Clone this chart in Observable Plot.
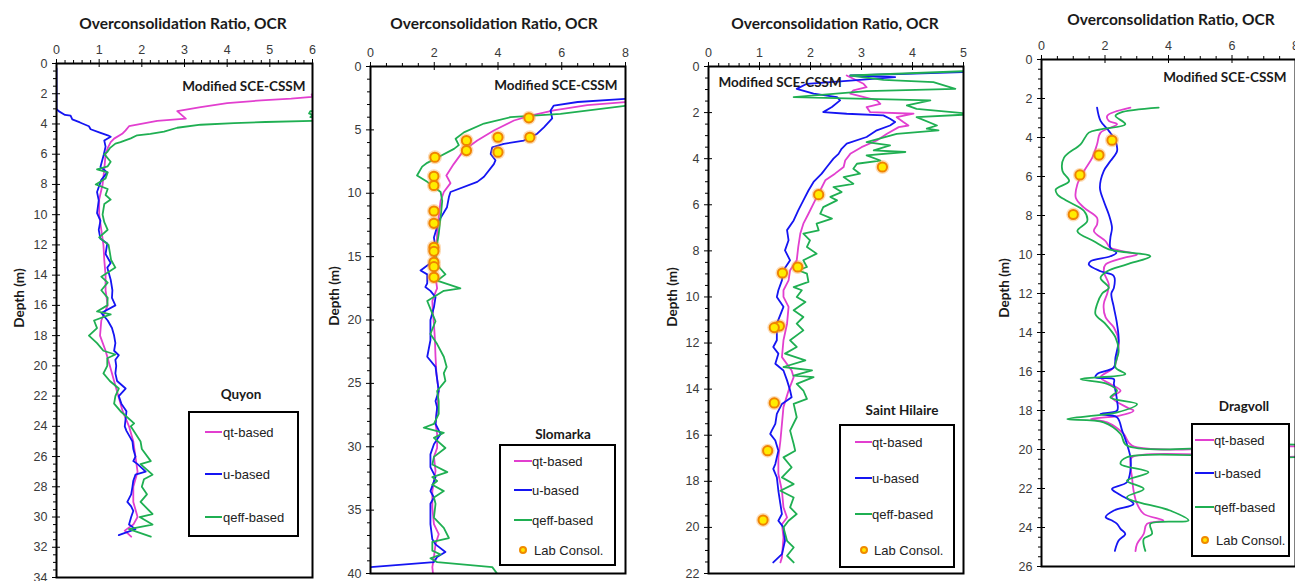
<!DOCTYPE html>
<html><head><meta charset="utf-8">
<script src="https://cdn.jsdelivr.net/npm/d3@7"></script>
<script src="https://cdn.jsdelivr.net/npm/@observablehq/plot@0.6"></script>
<style>
html,body{margin:0;padding:0;background:#fff;overflow:hidden;}
#root{position:relative;width:1295px;height:581px;overflow:hidden;font-family:"Liberation Sans",Arial,sans-serif;}
#root svg{position:absolute;overflow:visible;}
.title{position:absolute;font-family:Lato,"Open Sans",sans-serif;font-weight:700;font-size:15.5px;color:#1a1a1a;white-space:nowrap;transform:translate(-50%,-50%);}
.ylab{position:absolute;font-family:Lato,"Open Sans",sans-serif;font-weight:700;font-size:13.5px;color:#1a1a1a;white-space:nowrap;transform:translate(-50%,-50%) rotate(-90deg);}
.ltitle{position:absolute;font-family:Lato,"Open Sans",sans-serif;font-weight:700;font-size:13.5px;color:#1a1a1a;white-space:nowrap;transform:translate(-50%,-50%);}
.legend{position:absolute;border:2px solid #000;box-sizing:border-box;background:#fff;}
.legend .item{position:absolute;font-size:13px;color:#222;line-height:1;transform:translateY(-50%);white-space:nowrap;}
.legend .sw{position:absolute;height:2px;transform:translateY(-50%);}
.legend .dotsw{position:absolute;width:8px;height:8px;border-radius:50%;background:#ffe600;border:2px solid #f08a00;transform:translate(-50%,-50%);box-sizing:border-box;}
</style></head><body><div id="root"></div>
<script>
// ---------- data: [OCR, depth (m)] ----------
const seriesNames = ["qt-based", "u-based", "qeff-based"];
const labName = "Lab Consol.";
const siteNames = ["Quyon", "Slomarka", "Saint Hilaire", "Dragvoll"];

const quyonQt = [[6.6,1.95],[5.98,2.05],[6.0,2.2],[5.5,2.32],[4.8,2.44],[4.0,2.62],[3.38,2.88],[2.83,3.15],[3.03,3.65],[2.36,3.8],[1.7,4.15],[1.62,4.42],[1.54,4.65],[1.35,4.97],[1.27,5.2],[1.2,5.6],[1.15,6.0],[1.12,7],[1.08,8],[1.0,9],[1.0,10],[1.05,11],[1.1,12],[1.12,13],[1.15,14],[1.15,15],[1.2,16],[1.05,17],[1.02,18],[1.15,19],[1.25,20],[1.35,21],[1.45,22],[1.55,23],[1.7,24],[1.8,25],[1.85,26],[1.9,27],[1.8,28],[1.8,29],[1.9,30],[1.8,30.5],[1.6,30.9],[1.75,31.3]];
const quyonU = [[0,0.3],[0,3.0],[0.05,3.15],[0.2,3.4],[0.33,3.45],[0.37,3.7],[0.55,3.9],[0.76,4.15],[0.8,4.35],[1.0,4.55],[1.2,4.75],[1.27,4.85],[1.12,5.1],[1.15,5.5],[1.11,6.0],[1.03,6.85],[1.19,7.2],[1.05,7.7],[0.95,8.5],[0.99,9.05],[0.95,9.9],[1.03,10.4],[0.99,11],[1.03,11.6],[1.19,11.9],[1.15,12.6],[1.27,13.2],[1.19,13.5],[1.27,14.3],[1.31,15],[1.3,15.5],[1.38,16],[1.05,16.5],[1.2,17],[1.3,17.5],[1.35,18],[1.38,18.5],[1.35,19],[1.46,19.3],[1.38,19.6],[1.4,20],[1.38,20.5],[1.42,21],[1.62,21.5],[1.46,22],[1.52,22.5],[1.64,23],[1.62,23.5],[1.6,24],[1.64,24.3],[1.72,24.7],[1.78,25],[1.8,25.5],[1.85,26],[1.8,26.3],[1.9,26.5],[2.09,27],[1.85,27.2],[1.8,27.6],[1.78,28],[1.75,28.5],[1.66,29],[1.75,29.3],[1.8,29.6],[1.75,30],[1.7,30.5],[1.85,30.8],[1.46,31.2]];
const quyonQeff = [[6.6,3.05],[5.95,3.15],[5.92,3.3],[6.0,3.4],[5.95,3.55],[6.6,3.6],[6.6,3.7],[6.0,3.8],[4.9,3.87],[4.16,3.95],[3.38,4.05],[2.83,4.25],[2.52,4.5],[2.2,4.65],[1.89,4.75],[1.74,4.95],[1.5,5.2],[1.38,5.3],[1.25,5.6],[1.19,5.85],[1.12,6.0],[1.27,6.5],[1.2,6.8],[0.95,7.0],[1.2,7.2],[1.15,7.6],[0.92,8.0],[1.2,8.3],[1.15,8.7],[1.27,9.0],[1.12,9.3],[1.08,10],[1.12,10.5],[1.2,11],[1.0,11.5],[1.22,12],[1.25,12.5],[1.28,13],[1.38,13.5],[1.05,14.1],[1.2,14.5],[1.05,15],[1.2,15.5],[1.19,16],[0.95,16.4],[1.27,16.6],[0.88,17],[0.95,17.5],[0.76,18],[0.95,18.5],[1.1,19],[1.38,19.25],[1.19,19.5],[1.19,20],[1.1,20.5],[1.25,21],[1.46,21.5],[1.38,22],[1.35,22.5],[1.5,23],[1.82,23.8],[1.74,24],[1.97,25],[2.0,25.5],[2.21,26.3],[1.97,26.5],[2.25,27.2],[2.05,27.5],[2.0,28],[2.12,28.5],[1.97,29],[2.25,29.8],[1.95,30],[2.25,30.5],[1.7,30.8],[2.21,31.3]];

const slomarkaQt = [[8.5,2.75],[8,2.8],[6.8,3.05],[5.75,3.47],[5.02,3.87],[4.5,4.26],[3.87,5.05],[3.35,5.84],[2.93,6.6],[2.61,7.7],[2.38,8.6],[2.51,9.2],[2.3,9.9],[2.2,10.6],[2.14,11.9],[2.09,13.2],[2.07,14.5],[2.04,15.8],[2.04,16.6],[2.09,17.5],[2.04,17.8],[1.94,18.5],[1.96,19.5],[1.99,20.3],[2.02,21.5],[2.04,22.9],[2.07,24.3],[2.14,25.6],[2.09,27],[2.04,28.2],[2.09,29],[2.09,30.1],[1.99,30.8],[2.04,31.9],[1.94,33.5],[1.94,34.8],[1.99,36.1],[2.14,36.9],[2.04,37.7],[1.99,38.7],[1.94,39.5],[1.96,40]];
const slomarkaU = [[8.5,2.5],[8,2.55],[6.5,2.8],[5.75,3.08],[5.65,3.47],[5.7,4.1],[5.44,4.8],[5.23,5.3],[4.81,5.84],[4.18,6.1],[3.82,6.37],[3.77,6.9],[3.92,7.4],[3.87,7.7],[3.56,8.7],[3.35,9.1],[2.51,9.9],[2.46,10.3],[2.4,11.1],[2.14,12.2],[1.99,13.5],[2.04,14.3],[1.99,15.3],[1.78,15.7],[1.57,16.1],[1.78,16.4],[1.78,17.1],[1.72,17.4],[1.88,17.7],[2.04,18.2],[1.99,19.0],[1.88,20.0],[1.88,21.6],[1.78,22.9],[2.04,23.7],[2.14,25.6],[2.04,26.4],[2.09,26.9],[2.04,28.2],[2.2,29.0],[1.99,29.8],[1.88,30.6],[1.88,31.6],[2.04,32.4],[1.88,33.5],[1.99,34.0],[1.88,34.5],[1.88,35.0],[1.88,36.1],[1.94,37.3],[2.04,37.7],[2.35,38.3],[2.09,38.7],[1.99,39.1],[0,39.5]];
const slomarkaQeff = [[8.5,3.05],[8,3.1],[5.96,3.74],[4.39,4.0],[3.56,4.5],[2.93,5.2],[2.67,5.7],[2.77,6.2],[2.62,6.5],[2.09,7.2],[1.78,7.6],[1.62,7.9],[1.46,8.6],[1.78,9.1],[1.99,9.5],[2.2,9.9],[2.25,10.6],[2.2,11.9],[2.14,13.2],[2.04,14.8],[2.14,15.8],[2.35,16.4],[2.09,16.9],[2.82,17.5],[2.3,17.7],[1.78,18.5],[1.94,19.5],[2.04,20.1],[1.88,21.1],[2.09,21.9],[2.3,22.9],[2.39,23.7],[2.3,24.2],[2.35,24.8],[2.09,25.6],[2.14,26.4],[2.14,27.4],[1.99,28.2],[1.67,28.5],[2.3,28.9],[1.99,29.3],[2.35,30.1],[1.99,30.8],[1.94,31.4],[2.41,32.0],[1.94,32.4],[2.09,32.7],[1.94,33.0],[2.3,33.5],[1.99,34.0],[2.04,34.5],[1.99,35.6],[2.3,36.4],[2.46,37.2],[1.94,37.5],[1.94,38.2],[2.2,38.5],[1.88,38.8],[2.09,39.1],[3.82,39.5],[3.97,40]];
const slomarkaLab = [[4.97,4.05],[3.01,5.84],[3.01,6.63],[4.0,5.58],[4.0,6.76],[5.0,5.58],[2.02,7.16],[1.99,8.66],[1.99,9.39],[1.99,11.4],[1.99,12.37],[1.99,14.26],[1.99,14.58],[1.99,15.45],[1.99,15.79],[1.99,16.63]];

const hilaireQt = [[2.71,0.39],[2.91,0.61],[3.04,0.75],[3.1,0.9],[2.84,1.04],[2.78,1.18],[3.3,1.47],[3.37,1.62],[3.1,1.76],[3.17,1.98],[4.02,2.05],[3.69,2.2],[3.82,2.41],[3.92,2.56],[3.73,2.63],[3.5,2.92],[3.3,3.21],[3.0,3.5],[2.78,3.79],[2.68,4.08],[2.65,4.36],[2.48,4.65],[2.29,4.94],[2.19,5.38],[2.09,5.81],[1.96,6.39],[1.86,6.82],[1.8,7.25],[1.76,7.83],[1.73,8.41],[1.6,8.84],[1.57,9.28],[1.47,9.71],[1.47,10.0],[1.57,10.43],[1.54,11.16],[1.47,11.88],[1.44,12.61],[1.63,13.19],[1.67,13.48],[1.57,14.06],[1.47,14.78],[1.44,15.51],[1.41,16.23],[1.37,16.96],[1.37,17.68],[1.44,18.41],[1.47,19.13],[1.54,19.57],[1.44,19.86],[1.47,20.43],[1.44,21.3],[1.41,21.52]];
const hilaireU = [[5.3,0.22],[2.78,0.39],[3.66,0.46],[2.78,0.61],[1.93,0.75],[1.73,0.97],[2.06,1.18],[2.52,1.33],[2.58,1.47],[2.42,1.76],[2.25,1.98],[2.71,2.05],[3.43,2.12],[3.56,2.27],[3.66,2.41],[3.56,2.56],[3.3,2.77],[3.1,3.06],[2.71,3.35],[2.61,3.57],[2.55,3.79],[2.45,4.0],[2.32,4.36],[2.22,4.65],[2.06,5.01],[1.96,5.38],[1.86,5.81],[1.76,6.24],[1.67,6.68],[1.54,7.1],[1.57,7.54],[1.5,7.98],[1.6,8.41],[1.47,8.84],[1.44,9.28],[1.37,9.71],[1.34,10.0],[1.47,10.43],[1.34,11.16],[1.34,11.88],[1.27,12.17],[1.37,12.46],[1.31,12.9],[1.47,13.19],[1.54,13.62],[1.6,14.06],[1.63,14.35],[1.44,14.64],[1.34,15.07],[1.31,15.51],[1.24,15.8],[1.21,15.94],[1.31,16.23],[1.37,16.67],[1.31,17.25],[1.27,17.46],[1.34,17.83],[1.37,18.41],[1.41,18.99],[1.44,19.42],[1.37,19.71],[1.47,20.0],[1.5,20.58],[1.44,21.16],[1.27,21.52]];
const hilaireQeff = [[5.3,0.18],[2.78,0.39],[3.43,0.58],[4.41,0.68],[4.84,0.97],[3.1,1.07],[1.67,1.33],[4.35,1.47],[3.89,1.69],[4.08,1.84],[5.2,2.07],[4.08,2.2],[4.48,2.56],[4.28,2.7],[4.51,2.77],[3.69,2.92],[3.1,3.28],[3.56,3.42],[3.24,3.64],[3.86,3.71],[3.1,3.86],[3.37,4.08],[2.91,4.22],[2.84,4.44],[2.97,4.65],[2.65,4.8],[2.84,5.09],[2.45,5.23],[2.61,5.45],[2.39,5.66],[2.52,5.81],[2.25,6.1],[2.19,6.39],[2.42,6.6],[2.12,6.82],[2.16,7.11],[1.86,7.25],[1.99,7.54],[1.93,7.83],[2.12,8.12],[1.86,8.41],[1.93,8.7],[1.76,8.84],[1.93,8.99],[1.96,9.35],[1.67,9.57],[1.83,9.71],[1.73,10.0],[1.9,10.22],[1.67,10.58],[1.86,10.87],[1.73,11.16],[1.86,11.45],[1.6,11.88],[1.73,12.17],[1.5,12.46],[1.9,12.75],[1.47,13.04],[2.03,13.19],[1.67,13.41],[2.06,13.48],[1.73,13.77],[1.86,14.06],[1.93,14.42],[1.67,14.64],[1.73,15.22],[1.6,15.8],[1.67,16.38],[1.7,16.67],[1.47,16.96],[1.63,17.39],[1.44,17.83],[1.67,18.12],[1.41,18.41],[1.67,18.7],[1.6,19.13],[1.73,19.42],[1.57,19.71],[1.47,20.0],[1.54,20.58],[1.67,20.87],[1.54,21.23],[1.67,21.52]];
const hilaireLab = [[3.41,4.36],[2.16,5.56],[1.75,8.7],[1.45,8.96],[1.39,11.26],[1.29,11.33],[1.29,14.6],[1.16,16.67],[1.07,19.68]];

const dragvollQt = [[2.8,2.47],[2.07,2.89],[2.12,3.15],[2.38,3.32],[1.86,3.75],[1.75,4.35],[1.6,5.03],[1.34,5.72],[1.13,6.4],[1.08,7.09],[1.34,7.6],[1.75,8.12],[1.75,8.46],[1.65,8.8],[2.02,9.32],[2.17,9.66],[3.01,10.0],[2.59,10.17],[2.02,10.51],[1.96,10.86],[2.12,11.54],[2.07,12.0],[1.96,12.55],[2.02,13.23],[2.28,13.74],[2.43,14.42],[2.38,15.28],[2.28,15.79],[1.86,16.3],[2.17,16.64],[2.49,16.99],[2.22,17.33],[2.69,17.84],[2.9,18.01],[2.43,18.27],[1.55,18.44],[2.07,18.61],[2.59,19.2],[2.85,19.8],[8.5,19.97],[8.5,20.23],[2.85,20.4],[2.8,20.74],[2.85,21.42],[2.9,22.11],[3.01,22.79],[3.22,23.3],[3.84,23.64],[3.32,23.81],[3.22,24.33],[3.01,24.84],[2.96,25.21]];
const dragvollU = [[1.75,2.47],[1.86,3.15],[2.12,3.66],[2.33,4.18],[2.38,4.69],[2.17,5.21],[1.96,5.72],[1.84,6.58],[1.96,7.26],[2.12,7.95],[2.22,8.63],[2.17,9.14],[2.17,9.66],[2.36,9.91],[2.17,10.09],[1.55,10.34],[1.49,10.51],[1.86,10.86],[2.28,11.11],[2.28,11.71],[2.2,12.0],[2.28,12.72],[2.38,13.57],[2.43,14.42],[2.33,15.28],[2.28,15.79],[1.75,16.13],[1.7,16.3],[2.28,16.39],[2.28,16.64],[2.33,16.99],[2.38,17.5],[2.38,18.01],[1.86,18.18],[2.38,18.35],[2.54,19.03],[2.69,19.72],[2.8,20.4],[2.8,21.08],[2.69,21.68],[2.22,22.02],[2.43,22.28],[2.9,22.79],[2.28,23.13],[2.02,23.47],[2.22,23.64],[2.38,23.81],[2.49,24.07],[2.64,24.33],[2.43,24.67],[2.31,25.2]];
const dragvollQeff = [[3.69,2.47],[2.49,2.72],[2.33,2.89],[2.64,3.32],[1.86,3.58],[1.49,3.75],[1.23,4.35],[0.71,5.03],[0.66,5.72],[0.87,6.23],[0.45,6.66],[0.5,6.92],[0.81,7.26],[1.34,7.77],[1.44,8.29],[1.13,8.8],[1.65,9.32],[2.12,9.74],[3.43,10.09],[2.69,10.51],[2.07,10.86],[1.86,11.2],[2.12,11.71],[1.91,12.0],[1.75,12.55],[1.7,13.06],[2.02,13.57],[2.33,14.25],[2.43,14.94],[2.33,15.79],[2.64,16.13],[1.23,16.39],[2.07,16.64],[2.38,16.99],[2.17,17.33],[3.01,17.67],[2.38,18.1],[0.81,18.44],[1.96,18.61],[2.49,19.2],[2.69,19.8],[8.5,19.89],[8.5,20.23],[2.69,20.4],[2.49,20.74],[3.37,21.17],[2.69,21.6],[3.22,22.02],[2.69,22.45],[4.05,23.13],[4.63,23.64],[3.43,23.81],[3.48,24.33],[3.22,24.58],[3.27,25.2]];
const dragvollLab = [[2.22,4.14],[1.81,4.9],[1.21,5.92],[1.0,7.95]];

// axis tick labels
const quyonXTicks = [0,1,2,3,4,5,6], quyonYTicks = d3.range(0, 35, 2);
const slomarkaXTicks = [0,2,4,6,8], slomarkaYTicks = [0,5,10,15,20,25,30,35,40];
const hilaireXTicks = [0,1,2,3,4,5], hilaireYTicks = d3.range(0, 23, 2);
const dragvollXTicks = [0,2,4,6,8], dragvollYTicks = d3.range(0, 27, 2);

const colors = {"qt-based":"#e23fcf", "u-based":"#1515f2", "qeff-based":"#1faf52"};

const panels = [
  {site:siteNames[0], L:56, R:312, T:63, B:577, xMax:6, xTicks:quyonXTicks, xMinor:0.2, yMax:34, yTicks:quyonYTicks, yMinor:0.5,
   series:[quyonQt, quyonU, quyonQeff], lab:null, curve:"linear", mod:{anchor:"top-right", dx:-7, dy:23},
   title:{x:183, y:23}, ylab:{x:19, y:298},
   legend:{l:188, t:411, w:111, h:126, rows:[21,63,106], sx:15, sl:17, tx:33, title:{x:241, y:394}}},
  {site:siteNames[1], L:370, R:625, T:66, B:573, xMax:8, xTicks:slomarkaXTicks, xMinor:0.5, yMax:40, yTicks:slomarkaYTicks, yMinor:1,
   series:[slomarkaQt, slomarkaU, slomarkaQeff], lab:slomarkaLab, curve:"linear", mod:{anchor:"top-right", dx:-8, dy:19},
   title:{x:494, y:23}, ylab:{x:334, y:296},
   legend:{l:499, t:444, w:117, h:122, rows:[17,46,76,106], sx:13, sl:18, tx:31, title:{x:563, y:434}}},
  {site:siteNames[2], L:708, R:963, T:66, B:573, xMax:5, xTicks:hilaireXTicks, xMinor:0.2, yMax:22, yTicks:hilaireYTicks, yMinor:0.5,
   series:[hilaireQt, hilaireU, hilaireQeff], lab:hilaireLab, curve:"linear", mod:{anchor:"top-left", dx:10, dy:16},
   title:{x:835, y:23}, ylab:{x:672, y:297},
   legend:{l:839, t:424, w:116, h:144, rows:[18,54,90,126], sx:14, sl:17, tx:31, title:{x:902, y:410}}},
  {site:siteNames[3], L:1041, R:1295, T:59, B:566, xMax:8, xTicks:dragvollXTicks, xMinor:0.5, yMax:26, yTicks:dragvollYTicks, yMinor:0.5,
   series:[dragvollQt, dragvollU, dragvollQeff], lab:dragvollLab, curve:"catmull-rom", mod:{anchor:"top-right", dx:-9, dy:18},
   title:{x:1171, y:19}, ylab:{x:1004, y:288},
   legend:{l:1191, t:423, w:99, h:134, rows:[17,50,84,117], sx:2, sl:19, tx:21, title:{x:1244, y:406}}}
];

const root = document.getElementById("root");
const ML = 50, MR = 8, MT = 40, MB = 8;

function minorTicks(max, step, majors) {
  return d3.range(0, max + 1e-9, step).map(v => +v.toFixed(4)).filter(v => !majors.some(m => Math.abs(m - v) < 1e-6));
}

for (const p of panels) {
  const iw = p.R - p.L, ih = p.B - p.T;
  const xMin = minorTicks(p.xMax, p.xMinor, p.xTicks);
  const yMin = minorTicks(p.yMax, p.yMinor, p.yTicks);
  const marks = [
    Plot.ruleX(xMin, {x: d => d, stroke:"#000", strokeWidth:1, insetTop:-3, insetBottom: ih}),
    Plot.ruleX(p.xTicks, {x: d => d, stroke:"#000", strokeWidth:1, insetTop:-4, insetBottom: ih - 4}),
    Plot.ruleY(yMin, {y: d => d, stroke:"#000", strokeWidth:1, insetLeft:-3, insetRight: iw}),
    Plot.ruleY(p.yTicks, {y: d => d, stroke:"#000", strokeWidth:1, insetLeft:-4, insetRight: iw - 4}),
    Plot.axisX(p.xTicks, {anchor:"top", tickSize:0, tickPadding:10, fontSize:12.5, label:null}),
    Plot.axisY(p.yTicks, {anchor:"left", tickSize:0, tickPadding:9, fontSize:12.5, label:null}),
  ];
  p.series.forEach((s, i) => {
    marks.push(Plot.line(s, {x: d => d[0], y: d => d[1], stroke: colors[seriesNames[i]], strokeWidth:1.8, curve: p.curve, clip: true}));
  });
  if (p.lab) {
    marks.push(Plot.dot(p.lab, {x: d => d[0], y: d => d[1], r: 7, fill:"#f59a30", fillOpacity:0.35, stroke:"none"}));
    marks.push(Plot.dot(p.lab, {x: d => d[0], y: d => d[1], r: 4.6, fill:"#ffec00", stroke:"#f08400", strokeWidth:2}));
  }
  marks.push(Plot.frame({stroke:"#000", strokeWidth:2}));
  marks.push(Plot.text(["Modified SCE-CSSM"], {frameAnchor: p.mod.anchor, dx: p.mod.dx, dy: p.mod.dy, lineAnchor:"middle",
    textAnchor: p.mod.anchor === "top-left" ? "start" : "end", fontFamily:"Lato, 'Open Sans', sans-serif", fontWeight:"bold", fontSize:13.5, fill:"#1a1a1a"}));

  const svg = Plot.plot({
    width: iw + ML + MR, height: ih + MT + MB,
    marginLeft: ML, marginRight: MR, marginTop: MT, marginBottom: MB,
    x: {domain:[0, p.xMax]},
    y: {domain:[0, p.yMax], reverse: true},
    style: {fontFamily:"'Liberation Sans', Arial, sans-serif", color:"#3a3a3a", background:"transparent", overflow:"visible"},
    marks
  });
  svg.style.left = (p.L - ML) + "px";
  svg.style.top = (p.T - MT) + "px";
  root.appendChild(svg);

  // title
  const t = document.createElement("div");
  t.className = "title"; t.textContent = "Overconsolidation Ratio, OCR";
  t.style.left = p.title.x + "px"; t.style.top = p.title.y + "px";
  root.appendChild(t);
  const yl = document.createElement("div");
  yl.className = "ylab"; yl.textContent = "Depth (m)";
  yl.style.left = p.ylab.x + "px"; yl.style.top = p.ylab.y + "px";
  root.appendChild(yl);

  // legend
  const lg = p.legend;
  const lt = document.createElement("div");
  lt.className = "ltitle"; lt.textContent = p.site;
  lt.style.left = lg.title.x + "px"; lt.style.top = lg.title.y + "px";
  root.appendChild(lt);
  const box = document.createElement("div");
  box.className = "legend";
  Object.assign(box.style, {left: lg.l + "px", top: lg.t + "px", width: lg.w + "px", height: lg.h + "px"});
  const names = p.lab ? [...seriesNames, labName] : seriesNames;
  names.forEach((n, i) => {
    const yy = lg.rows[i] - 2;
    if (n === labName) {
      const d = document.createElement("div");
      d.className = "dotsw";
      Object.assign(d.style, {left: (lg.sx + lg.sl / 2) + "px", top: yy + "px"});
      box.appendChild(d);
    } else {
      const sw = document.createElement("div");
      sw.className = "sw";
      Object.assign(sw.style, {left: lg.sx + "px", top: yy + "px", width: lg.sl + "px", background: colors[n]});
      box.appendChild(sw);
    }
    const it = document.createElement("div");
    it.className = "item"; it.textContent = n;
    Object.assign(it.style, {left: (n === labName ? lg.tx + 2 : lg.tx) + "px", top: yy + "px"});
    box.appendChild(it);
  });
  root.appendChild(box);
}
</script></body></html>
